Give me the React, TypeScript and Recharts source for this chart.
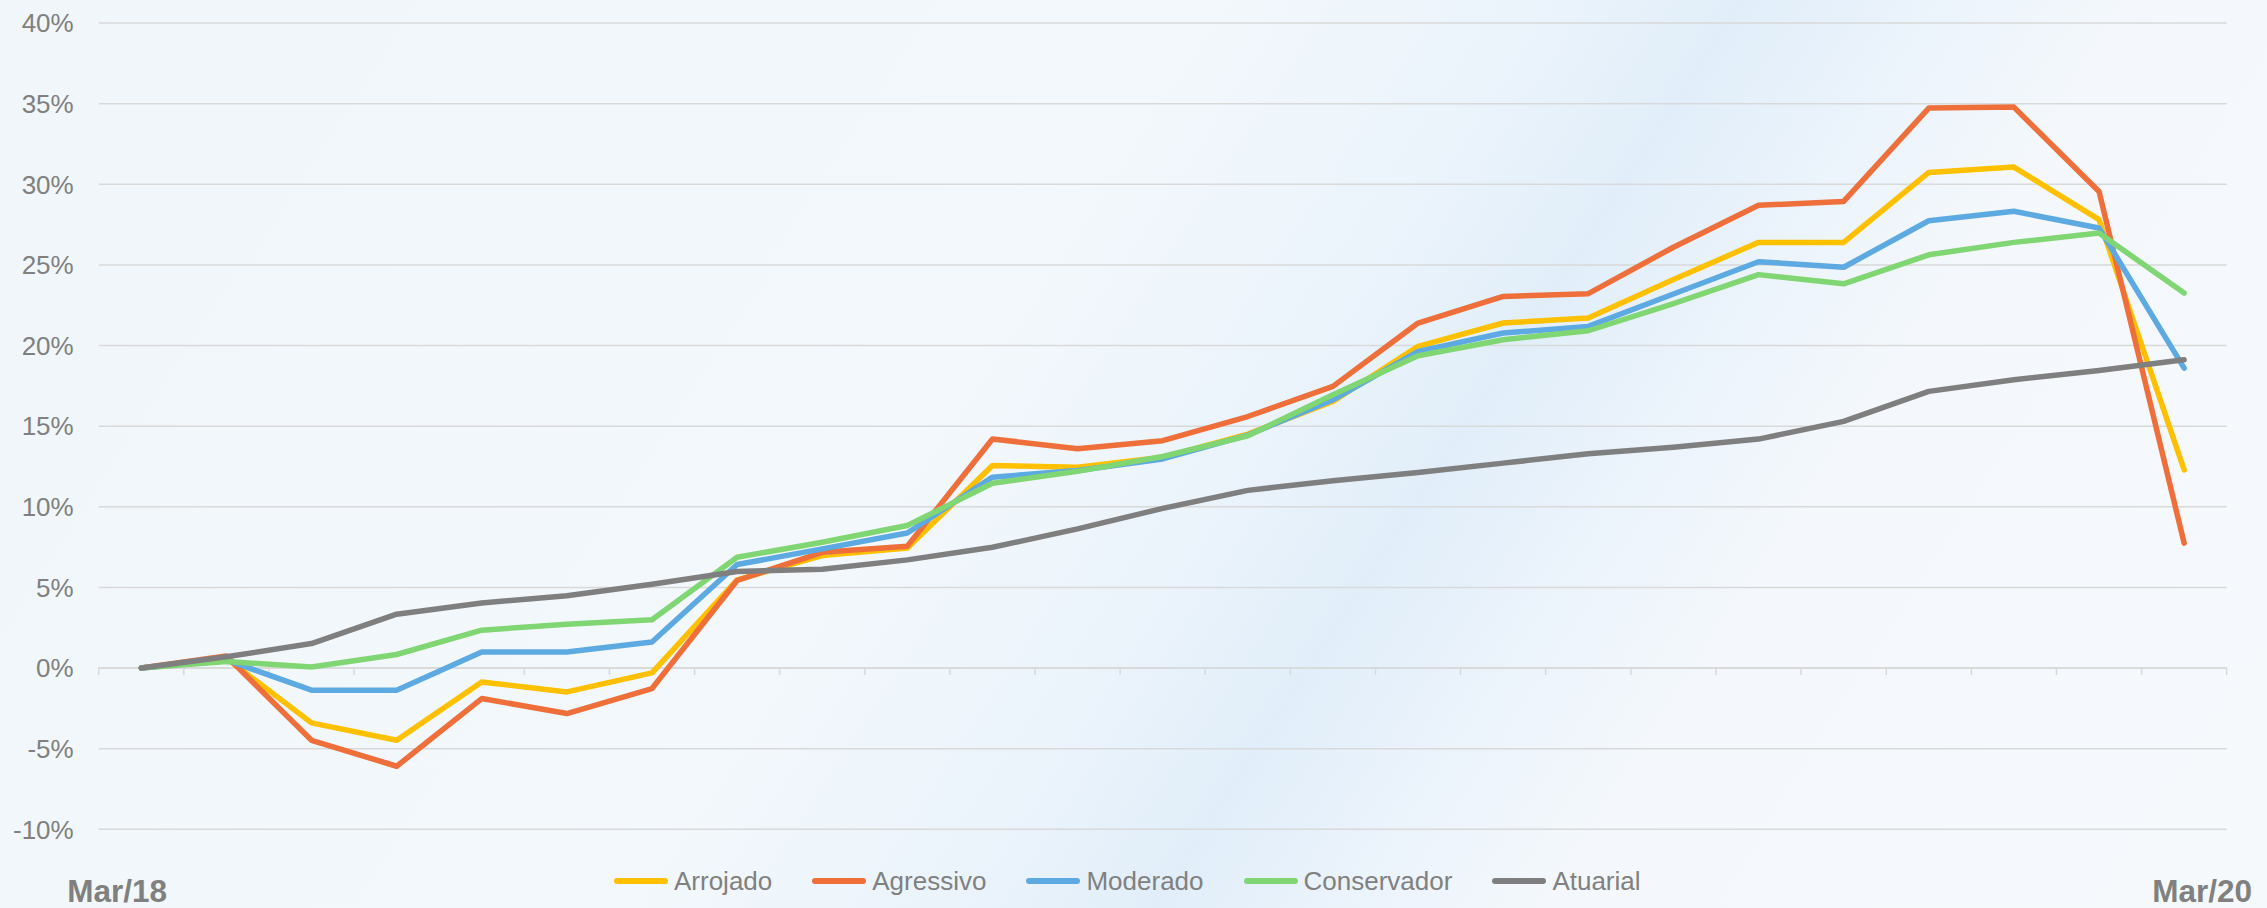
import React from "react";
import { LineChart, Line, XAxis, YAxis, CartesianGrid, Legend, ReferenceLine } from "recharts";

const categories = [
  "Mar/18", "Abr/18", "Mai/18", "Jun/18", "Jul/18", "Ago/18", "Set/18", "Out/18", "Nov/18", "Dez/18",
  "Jan/19", "Fev/19", "Mar/19", "Abr/19", "Mai/19", "Jun/19", "Jul/19", "Ago/19", "Set/19", "Out/19",
  "Nov/19", "Dez/19", "Jan/20", "Fev/20", "Mar/20",
];

const arrojado = [0, 0.6, -3.4, -4.48, -0.86, -1.48, -0.3, 5.47, 6.98, 7.45, 12.56, 12.46, 13.07, 14.51, 16.54, 19.95, 21.4, 21.71, 24.1, 26.4, 26.4, 30.74, 31.07, 27.81, 12.29];
const agressivo = [0, 0.75, -4.48, -6.09, -1.89, -2.82, -1.27, 5.43, 7.18, 7.56, 14.21, 13.6, 14.1, 15.6, 17.47, 21.4, 23.05, 23.22, 26.1, 28.7, 28.94, 34.73, 34.79, 29.56, 7.75];
const moderado = [0, 0.5, -1.37, -1.37, 1.0, 1.0, 1.62, 6.42, 7.39, 8.38, 11.84, 12.25, 12.97, 14.45, 16.64, 19.64, 20.78, 21.19, 23.2, 25.2, 24.86, 27.74, 28.33, 27.29, 18.6];
const conservador = [0, 0.4, 0.07, 0.84, 2.35, 2.72, 3.0, 6.87, 7.8, 8.84, 11.46, 12.2, 13.12, 14.41, 16.95, 19.37, 20.36, 20.92, 22.6, 24.4, 23.83, 25.63, 26.4, 26.98, 23.26];
const atuarial = [0, 0.7, 1.52, 3.34, 4.04, 4.48, 5.2, 5.99, 6.13, 6.71, 7.49, 8.63, 9.9, 11.02, 11.62, 12.13, 12.71, 13.29, 13.7, 14.2, 15.3, 17.16, 17.88, 18.46, 19.12];

const yTicks = [-10, -5, 0, 5, 10, 15, 20, 25, 30, 35, 40];
const xLabelTicks = [0, 24];

const series = [
  { key: "Arrojado", color: "#FFC000", values: arrojado },
  { key: "Agressivo", color: "#EF6F3A", values: agressivo },
  { key: "Moderado", color: "#5DA9E1", values: moderado },
  { key: "Conservador", color: "#80D672", values: conservador },
  { key: "Atuarial", color: "#7F7F7F", values: atuarial },
];

const data = categories.map((label, i) => {
  const row: Record<string, number | string> = { i, label };
  series.forEach((s) => {
    row[s.key] = s.values[i];
  });
  return row;
});

const boundaries = categories.map((_, i) => i - 0.5).concat([categories.length - 0.5]);

const FONT = '"Liberation Sans", Arial, sans-serif';
const TEXT_GRAY = "#808080";
const GRID = "#D9D9D9";

const XLabel = (props: any) => {
  const { x, y, payload } = props;
  const idx = payload.value as number;
  const first = idx === 0;
  return (
    <text
      x={first ? x - 74 : x + 68}
      y={y}
      dy={72.5}
      textAnchor={first ? "start" : "end"}
      fill={TEXT_GRAY}
      fontFamily={FONT}
      fontWeight="bold"
      fontSize={31.5}
    >
      {categories[idx]}
    </text>
  );
};

const LegendContent = () => (
  <div style={{ display: "flex", alignItems: "center", fontFamily: FONT, fontSize: 26, color: TEXT_GRAY, lineHeight: "30px" }}>
    {series.map((s, i) => (
      <div key={s.key} style={{ display: "flex", alignItems: "center", marginRight: i < series.length - 1 ? 40 : 0 }}>
        <div style={{ width: 54, height: 6, borderRadius: 3, background: s.color, marginRight: 6 }} />
        <span>{s.key}</span>
      </div>
    ))}
  </div>
);

export default function App() {
  return (
    <div
      style={{
        position: "fixed",
        left: 0,
        top: 0,
        width: 2267,
        height: 908,
        fontFamily: FONT,
        background:
          "linear-gradient(123deg, #f1f6fb 0%, #f3f8fc 42%, #eaf3fb 55%, #e1eef9 61%, #e9f2fb 66%, #f4f8fc 75%, #f6f9fc 100%)",
      }}
    >
      <LineChart
        width={2267}
        height={908}
        data={data}
        margin={{ top: 23.1, right: 40.3, left: 0, bottom: 0 }}
      >
        <CartesianGrid vertical={false} stroke={GRID} strokeWidth={1.5} />
        <XAxis
          dataKey="i"
          type="number"
          domain={[-0.5, categories.length - 0.5]}
          ticks={xLabelTicks}
          axisLine={false}
          tickLine={false}
          tickSize={0}
          tickMargin={0}
          height={78.7}
          tick={<XLabel />}
          interval={0}
        />
        <YAxis
          domain={[-10, 40]}
          ticks={yTicks}
          width={98.7}
          axisLine={false}
          tickLine={false}
          tickSize={0}
          tickMargin={25}
          tickFormatter={(v: number) => `${v}%`}
          tick={{ fill: TEXT_GRAY, fontSize: 26, fontFamily: FONT }}
          interval={0}
        />
        <ReferenceLine y={0} stroke={GRID} strokeWidth={1.5} />
        {boundaries.map((b) => (
          <ReferenceLine
            key={`t${b}`}
            segment={[
              { x: b, y: 0 },
              { x: b, y: -0.43 },
            ]}
            stroke={GRID}
            strokeWidth={1.5}
          />
        ))}
        {series.map((s) => (
          <Line
            key={s.key}
            dataKey={s.key}
            name={s.key}
            stroke={s.color}
            strokeWidth={5.5}
            strokeLinecap="round"
            strokeLinejoin="round"
            dot={false}
            activeDot={false}
            isAnimationActive={false}
          />
        ))}
        <Legend
          verticalAlign="middle"
          layout="horizontal"
          content={<LegendContent />}
          wrapperStyle={{ left: 614, top: 866, width: 1200, height: 30 }}
        />
      </LineChart>
    </div>
  );
}
